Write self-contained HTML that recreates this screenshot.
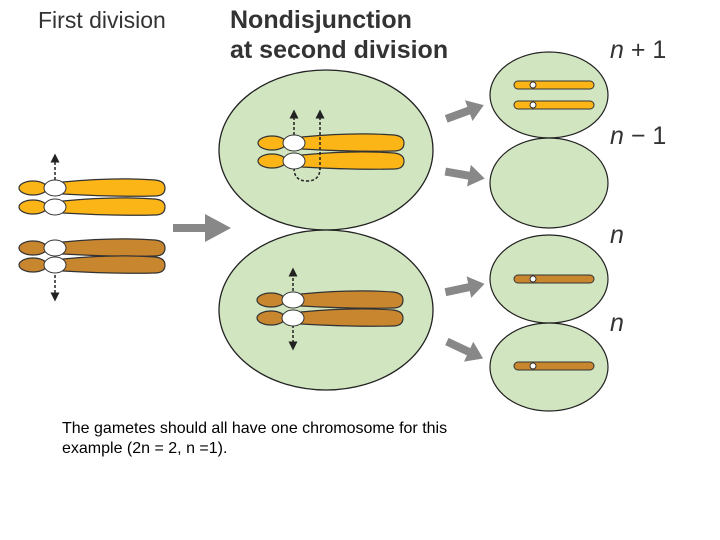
<!DOCTYPE html>
<html><head><style>
body{margin:0;width:720px;height:540px;background:#fff;overflow:hidden;position:relative;font-family:"Liberation Sans",sans-serif}
.t{position:absolute;color:#333;font-size:25px;line-height:30px}
.n{position:absolute;font-size:25px;color:#333}
</style></head><body>
<svg width="720" height="540" style="position:absolute;left:0;top:0">
<defs>
<g id="chY">
 <ellipse cx="-22" cy="0" rx="14" ry="7" fill="#fbb516" stroke="#333" stroke-width="1.2"/>
 <path d="M8,-6 Q60,-11 100,-8 Q110,-7 110,0 Q110,8 100,8 Q60,9 8,6 Z" fill="#fbb516" stroke="#333" stroke-width="1.2"/>
</g>
<g id="chB">
 <ellipse cx="-22" cy="0" rx="14" ry="7" fill="#c8862f" stroke="#333" stroke-width="1.2"/>
 <path d="M8,-6 Q60,-11 100,-8 Q110,-7 110,0 Q110,8 100,8 Q60,9 8,6 Z" fill="#c8862f" stroke="#333" stroke-width="1.2"/>
</g>
<marker id="ah" markerWidth="6" markerHeight="6" refX="3" refY="3" orient="auto"><path d="M0,0L6,3L0,6Z" fill="#222"/></marker>
</defs>
<ellipse cx="326" cy="150" rx="107" ry="80" fill="#d1e5c0" stroke="#222" stroke-width="1.3"/>
<ellipse cx="326" cy="310" rx="107" ry="80" fill="#d1e5c0" stroke="#222" stroke-width="1.3"/>
<ellipse cx="549" cy="95" rx="59" ry="43" fill="#d1e5c0" stroke="#222" stroke-width="1.2"/>
<ellipse cx="549" cy="183" rx="59" ry="45" fill="#d1e5c0" stroke="#222" stroke-width="1.2"/>
<ellipse cx="549" cy="279" rx="59" ry="44" fill="#d1e5c0" stroke="#222" stroke-width="1.2"/>
<ellipse cx="549" cy="367" rx="59" ry="44" fill="#d1e5c0" stroke="#222" stroke-width="1.2"/>
<line x1="55" y1="185" x2="55" y2="158" stroke="#222" stroke-width="1.5" stroke-dasharray="3,2" marker-end="url(#ah)"/>
<use href="#chY" x="55" y="188"/><use href="#chY" x="55" y="207"/>
<ellipse cx="55" cy="188" rx="11" ry="8" fill="#fff" stroke="#333"/><ellipse cx="55" cy="207" rx="11" ry="8" fill="#fff" stroke="#333"/>
<line x1="55" y1="270" x2="55" y2="297" stroke="#222" stroke-width="1.5" stroke-dasharray="3,2" marker-end="url(#ah)"/>
<use href="#chB" x="55" y="248"/><use href="#chB" x="55" y="265"/>
<ellipse cx="55" cy="248" rx="11" ry="8" fill="#fff" stroke="#333"/><ellipse cx="55" cy="265" rx="11" ry="8" fill="#fff" stroke="#333"/>
<line x1="294" y1="140" x2="294" y2="114" stroke="#222" stroke-width="1.5" stroke-dasharray="3,2" marker-end="url(#ah)"/>
<use href="#chY" x="294" y="143"/><use href="#chY" x="294" y="161"/>
<line x1="320" y1="170" x2="320" y2="114" stroke="#222" stroke-width="1.5" stroke-dasharray="3,2" marker-end="url(#ah)"/>
<path d="M294,168 Q294,181 307,181 Q320,181 320,168" fill="none" stroke="#222" stroke-width="1.5" stroke-dasharray="3,2"/>
<ellipse cx="294" cy="143" rx="11" ry="8" fill="#fff" stroke="#333"/><ellipse cx="294" cy="161" rx="11" ry="8" fill="#fff" stroke="#333"/>
<line x1="293" y1="296" x2="293" y2="272" stroke="#222" stroke-width="1.5" stroke-dasharray="3,2" marker-end="url(#ah)"/>
<line x1="293" y1="320" x2="293" y2="346" stroke="#222" stroke-width="1.5" stroke-dasharray="3,2" marker-end="url(#ah)"/>
<use href="#chB" x="293" y="300"/><use href="#chB" x="293" y="318"/>
<ellipse cx="293" cy="300" rx="11" ry="8" fill="#fff" stroke="#333"/><ellipse cx="293" cy="318" rx="11" ry="8" fill="#fff" stroke="#333"/>
<g stroke="#333" stroke-width="1">
<rect x="514" y="81" width="80" height="8" rx="4" fill="#fbb516"/><circle cx="533" cy="85" r="3" fill="#fff"/>
<rect x="514" y="101" width="80" height="8" rx="4" fill="#fbb516"/><circle cx="533" cy="105" r="3" fill="#fff"/>
<rect x="514" y="275" width="80" height="8" rx="4" fill="#c8862f"/><circle cx="533" cy="279" r="3" fill="#fff"/>
<rect x="514" y="362" width="80" height="8" rx="4" fill="#c8862f"/><circle cx="533" cy="366" r="3" fill="#fff"/>
</g>
<g fill="#888">
<path d="M173,224 H205 V214 L231,228 L205,242 V232 H173 Z"/>
<g transform="translate(465,112) rotate(-20)"><path d="M-20,-4 H4 V-11 L20,0 L4,11 V4 H-20 Z"/></g>
<g transform="translate(465,175) rotate(10)"><path d="M-20,-4 H4 V-11 L20,0 L4,11 V4 H-20 Z"/></g>
<g transform="translate(465,288) rotate(-12)"><path d="M-20,-4 H4 V-11 L20,0 L4,11 V4 H-20 Z"/></g>
<g transform="translate(465,350) rotate(25)"><path d="M-20,-4 H4 V-11 L20,0 L4,11 V4 H-20 Z"/></g>
</g>
</svg>
<div class="t" style="left:38px;top:5px;font-size:23px">First division</div>
<div class="t" style="left:230px;top:5px;font-weight:bold">Nondisjunction<br>at second division</div>
<div class="n" style="left:610px;top:36px"><i>n</i> + 1</div>
<div class="n" style="left:610px;top:122px"><i>n</i> − 1</div>
<div class="n" style="left:610px;top:221px"><i>n</i></div>
<div class="n" style="left:610px;top:309px"><i>n</i></div>
<div style="position:absolute;left:62px;top:419px;font-size:16px;line-height:20px;color:#000">The gametes should all have one chromosome for this<br>example (2n = 2, n =1).</div>
</body></html>
